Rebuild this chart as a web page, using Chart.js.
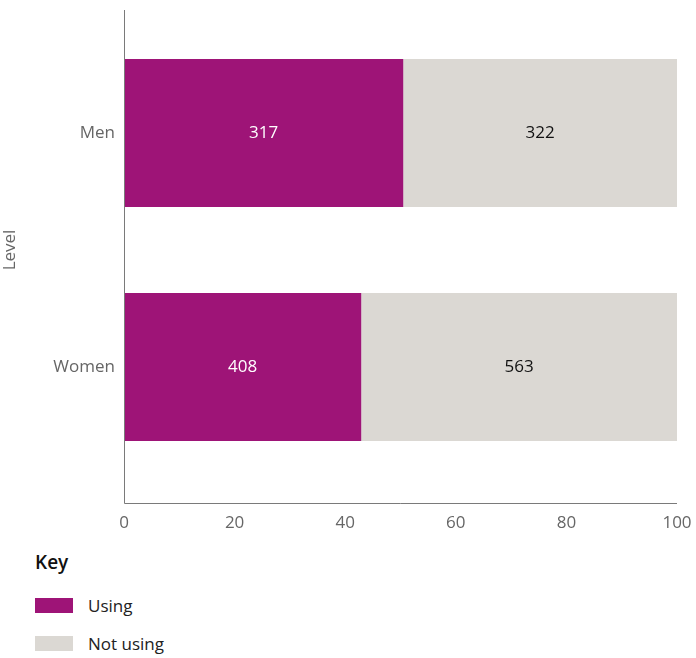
<!DOCTYPE html>
<html>
<head>
<meta charset="utf-8">
<script src="https://cdn.jsdelivr.net/npm/chart.js@4/dist/chart.umd.min.js"></script>
<style>
  html, body { margin: 0; padding: 0; background: #fff; }
  #wrap { position: relative; width: 696px; height: 658px; font-family: "Open Sans", sans-serif; }
  #c { position: absolute; left: 0; top: 0; }
  #legend { position: absolute; left: 35px; top: 548px; color: #111; }
  #legend .title { font-size: 19px; font-weight: 600; line-height: 28px; margin-bottom: 10px; }
  #legend .item { display: flex; align-items: center; height: 38px; font-size: 17px; color: #222; }
  #legend .box { width: 38px; height: 15px; margin-right: 15px; }
</style>
</head>
<body>
<div id="wrap">
  <canvas id="c" width="696" height="545"></canvas>
  <div id="legend"></div>
</div>
<script>
const categories = ["Men", "Women"];
const seriesNames = ["Using", "Not using"];
const usingPct = [50.5, 42.9];
const notUsingPct = [49.5, 57.1];
const usingCount = [317, 408];
const notUsingCount = [322, 563];
const xTicks = [0, 20, 40, 60, 80, 100];
const colors = ["#9e1477", "#dbd8d3"];
const labelColors = ["#ffffff", "#111111"];

const counts = [usingCount, notUsingCount];

const axisLines = {
  id: 'axisLines',
  afterDraw(chart) {
    const ctx = chart.ctx, a = chart.chartArea;
    ctx.save();
    ctx.strokeStyle = '#7a7a7a';
    ctx.lineWidth = 1;
    ctx.beginPath();
    ctx.moveTo(a.left + 0.5, 10);
    ctx.lineTo(a.left + 0.5, 503.5);
    ctx.lineTo(a.right, 503.5);
    ctx.stroke();
    ctx.restore();
  }
};

const dataLabels = {
  id: 'dataLabels',
  afterDatasetsDraw(chart) {
    const ctx = chart.ctx;
    ctx.save();
    ctx.font = '17px "Open Sans", sans-serif';
    ctx.textAlign = 'center';
    ctx.textBaseline = 'middle';
    chart.data.datasets.forEach((ds, di) => {
      const meta = chart.getDatasetMeta(di);
      meta.data.forEach((el, i) => {
        ctx.fillStyle = labelColors[di];
        ctx.fillText(String(counts[di][i]), (el.x + el.base) / 2, el.y);
      });
    });
    ctx.restore();
  }
};

const chart = new Chart(document.getElementById('c'), {
  type: 'bar',
  data: {
    labels: categories,
    datasets: [
      { label: seriesNames[0], data: usingPct, backgroundColor: colors[0] },
      { label: seriesNames[1], data: notUsingPct, backgroundColor: colors[1] }
    ]
  },
  options: {
    indexAxis: 'y',
    responsive: false,
    animation: false,
    layout: { padding: { top: 16, right: 19, left: 0, bottom: 0 } },
    datasets: { bar: { barPercentage: 1, categoryPercentage: 0.6325, borderWidth: 0 } },
    plugins: { legend: { display: false }, tooltip: { enabled: false } },
    scales: {
      x: {
        stacked: true,
        min: 0, max: 100,
        afterBuildTicks(scale) { scale.ticks = xTicks.map(v => ({ value: v })); },
        afterFit(scale) { scale.height = 61; scale.paddingLeft = 0; scale.paddingRight = 0; },
        grid: { display: false, drawTicks: false },
        border: { display: false },
        ticks: { color: '#666', padding: 29, font: { family: '"Open Sans", sans-serif', size: 17 } }
      },
      y: {
        stacked: true,
        afterFit(scale) { scale.width = 124; scale.paddingTop = 0; scale.paddingBottom = 0; },
        grid: { display: false, drawTicks: false },
        border: { display: false },
        ticks: { color: '#666', padding: 9, font: { family: '"Open Sans", sans-serif', size: 17 } },
        title: { display: true, text: 'Level', color: '#666', padding: 0, font: { family: '"Open Sans", sans-serif', size: 17 } }
      }
    }
  },
  plugins: [axisLines, dataLabels]
});

const legend = document.getElementById('legend');
const t = document.createElement('div');
t.className = 'title';
t.textContent = 'Key';
legend.appendChild(t);
chart.data.datasets.forEach(ds => {
  const it = document.createElement('div');
  it.className = 'item';
  const b = document.createElement('span');
  b.className = 'box';
  b.style.background = ds.backgroundColor;
  const s = document.createElement('span');
  s.textContent = ds.label;
  it.appendChild(b); it.appendChild(s);
  legend.appendChild(it);
});
</script>
</body>
</html>
